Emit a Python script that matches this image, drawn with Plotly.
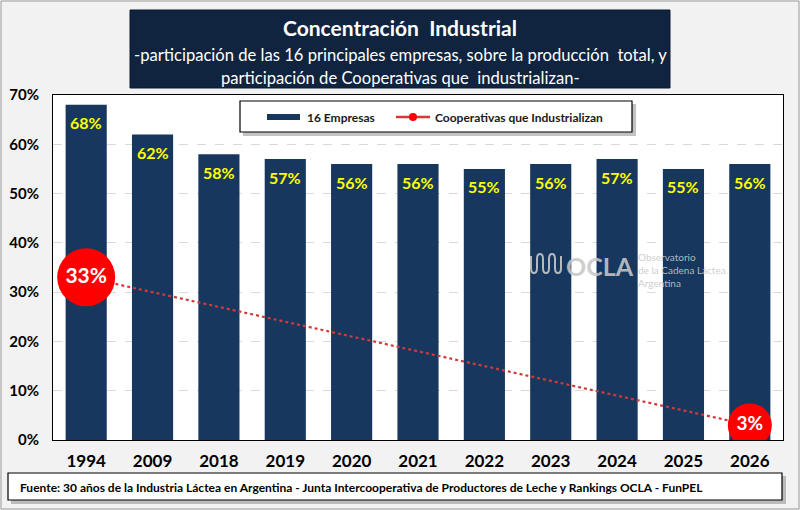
import plotly.graph_objects as go

years = ["1994", "2009", "2018", "2019", "2020", "2021", "2022", "2023", "2024", "2025", "2026"]
empresas = [68, 62, 58, 57, 56, 56, 55, 56, 57, 55, 56]
cooperativas = [33, None, None, None, None, None, None, None, None, None, 3]
coop_labels = ["33%", "", "", "", "", "", "", "", "", "", "3%"]
coop_sizes = [58, 0, 0, 0, 0, 0, 0, 0, 0, 0, 44]
coop_text_sizes = [21, 1, 1, 1, 1, 1, 1, 1, 1, 1, 19]
y_ticks = [0, 10, 20, 30, 40, 50, 60, 70]
y_tick_labels = ["0%", "10%", "20%", "30%", "40%", "50%", "60%", "70%"]

FONT = "Lato"
NAVY = "#17375e"
TITLE_BG = "#10243f"
RED_LINE = "#d23a3a"

# plot area in pixels: x 53..783, y 95..440
L, R, T, B = 53, 783, 95, 440
W, H = R - L, B - T


def px(x):
    return (x - L) / W


def py(y):
    return (B - y) / H


fig = go.Figure()
fig.add_trace(go.Bar(
    x=years, y=empresas, name="16 Empresas",
    marker=dict(color=NAVY, line=dict(width=0)),
))
fig.add_trace(go.Scatter(
    x=years, y=cooperativas, name="Cooperativas que Industrializan",
    mode="lines+markers+text", connectgaps=True,
    line=dict(color=RED_LINE, width=2.2, dash="dot"),
    marker=dict(color="#ff0000", size=coop_sizes, opacity=1, line=dict(width=0)),
    text=coop_labels, textposition="middle center",
    textfont=dict(color="white", size=coop_text_sizes, family=FONT, weight="bold"),
))

annotations = []
for i, v in enumerate(empresas):
    annotations.append(dict(
        x=i, y=v, xref="x", yref="y", text=f"{v}%", showarrow=False,
        yshift=-18, yanchor="middle", xanchor="center",
        font=dict(color="#ffff00", size=16, family=FONT, weight="bold"),
    ))

GRAY_LOGO = "rgba(200,200,200,0.9)"


def ptext(x, y, text, size, color, xanchor="center", weight="normal", align="center"):
    return dict(x=px(x), y=py(y), xref="paper", yref="paper", text=text, showarrow=False,
                xanchor=xanchor, yanchor="middle", align=align,
                font=dict(color=color, size=size, family=FONT, weight=weight))


annotations += [
    # title
    ptext(400, 27, "Concentración  Industrial", 21, "white", weight="bold"),
    ptext(400, 55, "-participación de las 16 principales empresas, sobre la producción  total, y", 16.6, "white"),
    ptext(400, 78, "participación de Cooperativas que  industrializan-", 16.6, "white"),
    # source
    ptext(18, 487, "Fuente: 30 años de la Industria Láctea en Argentina - Junta Intercooperativa de Productores de Leche y Rankings OCLA - FunPEL",
          12, "black", xanchor="left", weight="bold"),
    # legend texts
    ptext(305, 117, "16 Empresas", 12, "#1a1a1a", xanchor="left", weight="bold"),
    ptext(433, 117, "Cooperativas que Industrializan", 12, "#1a1a1a", xanchor="left", weight="bold"),
    # OCLA watermark
    ptext(564, 266, "OCLA", 25, GRAY_LOGO, xanchor="left", weight="bold"),
    ptext(636, 270, "Observatorio<br>de la Cadena Láctea<br>Argentina", 10, GRAY_LOGO, xanchor="left", align="left"),
]

shapes = [
    # outer border
    dict(type="rect", xref="paper", yref="paper", x0=px(1), x1=px(799), y0=py(509), y1=py(1),
         line=dict(color="#9a9a9a", width=1), layer="below"),
    # title box
    dict(type="rect", xref="paper", yref="paper", x0=px(130), x1=px(670), y0=py(88), y1=py(10),
         line=dict(color="#0b1a30", width=1), fillcolor=TITLE_BG, layer="below"),
    # legend shadow and box
    dict(type="rect", xref="paper", yref="paper", x0=px(243), x1=px(636), y0=py(136), y1=py(104),
         line=dict(width=0), fillcolor="rgba(120,120,120,0.45)", layer="above"),
    dict(type="rect", xref="paper", yref="paper", x0=px(240), x1=px(632), y0=py(132), y1=py(101),
         line=dict(color="black", width=1.2), fillcolor="white", layer="above"),
    # legend symbols
    dict(type="rect", xref="paper", yref="paper", x0=px(267), x1=px(300), y0=py(120), y1=py(114),
         line=dict(width=0), fillcolor=NAVY, layer="above"),
    dict(type="line", xref="paper", yref="paper", x0=px(396), x1=px(430), y0=py(117), y1=py(117),
         line=dict(color=RED_LINE, width=2.5), layer="above"),
    dict(type="circle", xref="paper", yref="paper", x0=px(409), x1=px(417), y0=py(121), y1=py(113),
         line=dict(width=0), fillcolor="#ff0000", layer="above"),
    # source shadow and box
    dict(type="rect", xref="paper", yref="paper", x0=px(11), x1=px(786), y0=py(504), y1=py(476),
         line=dict(width=0), fillcolor="rgba(120,120,120,0.45)", layer="below"),
    dict(type="rect", xref="paper", yref="paper", x0=px(8), x1=px(782), y0=py(500), y1=py(473),
         line=dict(color="black", width=1.2), fillcolor="white", layer="below"),
    # OCLA squiggle icon
    dict(type="path", xref="paper", yref="paper",
         path=("M {a},{y0} L {a},{y1} Q {a},{y2} {b},{y2} Q {c},{y2} {c},{y1} L {c},{y3} Q {c},{y4} {d},{y4} "
               "Q {e},{y4} {e},{y3} L {e},{y1} Q {e},{y2} {f},{y2} Q {g},{y2} {g},{y1} L {g},{y3} Q {g},{y4} {h},{y4} "
               "Q {i},{y4} {i},{y3} L {i},{y1} Q {i},{y2} {j},{y2} Q {k},{y2} {k},{y1} L {k},{y0}").format(
             a=px(531), b=px(534), c=px(537), d=px(540), e=px(543), f=px(546), g=px(549),
             h=px(552), i=px(555), j=px(558), k=px(561),
             y0=py(256), y1=py(268), y2=py(273), y3=py(259), y4=py(254)),
         line=dict(color=GRAY_LOGO, width=2), layer="above"),
]

fig.update_layout(
    width=800, height=510,
    margin=dict(l=L, r=800 - R, t=T, b=510 - B, autoexpand=False),
    paper_bgcolor="#f2f2f2", plot_bgcolor="white",
    font=dict(family=FONT, color="black"),
    bargap=0.38,
    showlegend=False,
    annotations=annotations,
    shapes=shapes,
    xaxis=dict(type="category", range=[-0.5, len(years) - 0.5], autorange=False,
               showgrid=False, showline=True, linecolor="black", linewidth=1,
               mirror=True, ticks="", ticklabelstandoff=6, automargin=False,
               tickfont=dict(size=17, family=FONT, color="black", weight="bold")),
    yaxis=dict(range=[0, 70], autorange=False, tickvals=y_ticks, ticktext=y_tick_labels, showgrid=True,
               gridcolor="#d9d9d9", griddash="dash", gridwidth=1, zeroline=False,
               showline=True, linecolor="black", linewidth=1, mirror=True, ticks="",
               ticklabelstandoff=10, automargin=False,
               tickfont=dict(size=15, family=FONT, color="black", weight="bold")),
)

fig.write_html("out.html", config={"displayModeBar": False},
               post_script="document.body.style.margin='0';")
